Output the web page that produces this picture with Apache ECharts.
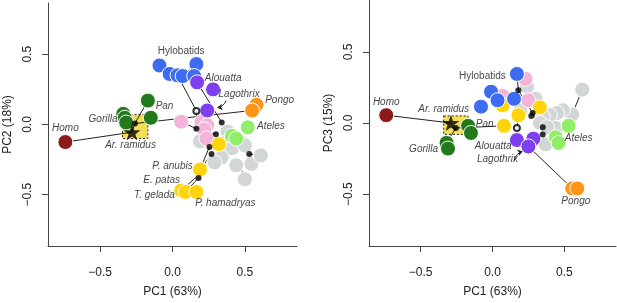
<!DOCTYPE html>
<html>
<head>
<meta charset="UTF-8">
<title>PCA</title>
<script src="https://cdn.jsdelivr.net/npm/echarts@6/dist/echarts.min.js"></script>
<style>
    body { margin: 0; padding: 0; overflow: hidden; background: #fff; }
    #chart { width: 617px; height: 303px; }
</style>
</head>
<body>
<div id="chart"></div>
<script>
    // ticks
    const tickValues = [-0.5, 0, 0.5];

    // ---- PC1 / PC2 (left) ----
    const pc2Homo = [[-0.74, -0.125]];
    const pc2Ardi = [[-0.28, -0.055]];
    const pc2Box = [[-0.345, 0.07], [-0.17, -0.1]];
    const pc2African = [[-0.34, 0.076], [-0.33, 0.048], [-0.32, 0.014], [-0.17, 0.17], [-0.15, 0.048]];
    const pc2Hylo = [[-0.09, 0.42], [-0.02, 0.36], [0.035, 0.35], [0.07, 0.345], [0.165, 0.43], [0.15, 0.345]];
    const pc2Atelid = [[0.17, 0.30], [0.28, 0.25], [0.24, 0.10]];
    const pc2Pongo = [[0.58, 0.14], [0.55, 0.10]];
    const pc2Ateles = [[0.52, -0.02], [0.41, -0.08], [0.44, -0.10]];
    const pc2Pink = [[0.06, 0.02], [0.2, 0.02], [0.24, -0.005], [0.22, -0.035], [0.235, -0.10]];
    const pc2Papio = [[0.32, -0.14], [0.19, -0.32], [0.06, -0.47], [0.09, -0.48], [0.165, -0.48]];
    const pc2Gray = [[0.19, -0.12], [0.38, -0.05], [0.37, -0.13], [0.48, -0.13], [0.41, -0.17], [0.5, -0.15],
        [0.34, -0.235], [0.29, -0.27], [0.44, -0.29], [0.545, -0.28], [0.61, -0.22], [0.5, -0.39]];
    const pc2Nodes = [[-0.26, 0.007], [0.165, -0.03], [0.34, 0.015], [0.30, -0.07], [0.255, -0.16],
        [0.27, -0.21], [0.18, -0.38], [0.53, -0.21]];
    const pc2Open = [[0.165, 0.097]];
    const pc2Edges = [
        [[-0.74, -0.125], [-0.28, -0.055]],
        [[-0.26, 0.007], [0.55, 0.10]],
        [[-0.26, 0.007], [-0.17, 0.17]],
        [[-0.26, 0.007], [-0.28, -0.055]],
        [[0.035, 0.35], [0.165, 0.097]],
        [[0.165, 0.097], [0.165, -0.03]],
        [[0.07, 0.345], [0.165, 0.43]],
        [[0.17, 0.30], [0.34, 0.015]],
        [[0.06, 0.02], [0.165, -0.03]],
        [[0.165, -0.03], [0.30, -0.07]],
        [[0.255, -0.16], [0.19, -0.32]],
        [[0.27, -0.21], [0.2, -0.31]],
        [[0.18, -0.38], [0.09, -0.48]],
        [[0.17, -0.37], [0.07, -0.46]],
        [[0.53, -0.21], [0.61, -0.22]],
        [[0.48, -0.33], [0.5, -0.37]]
    ];
    const pc2Arrow = [[[0.37, 0.17], [0.31, 0.12]]];
    const pc2Labels = [
        [0.06, 0.525, 'Hylobatids', 'normal'],
        [0.35, 0.33, 'Alouatta', 'italic'],
        [0.46, 0.215, 'Lagothrix', 'italic'],
        [0.74, 0.17, 'Pongo', 'italic'],
        [0.68, -0.015, 'Ateles', 'italic'],
        [-0.055, 0.13, 'Pan', 'italic'],
        [-0.48, 0.035, 'Gorilla', 'italic'],
        [-0.74, -0.03, 'Homo', 'italic'],
        [-0.29, -0.15, 'Ar. ramidus', 'italic'],
        [0.0, -0.30, 'P. anubis', 'italic'],
        [-0.075, -0.40, 'E. patas', 'italic'],
        [-0.125, -0.505, 'T. gelada', 'italic'],
        [0.365, -0.56, 'P. hamadryas', 'italic']
    ];

    // ---- PC1 / PC3 (right) ----
    const pc3Homo = [[-0.74, 0.055]];
    const pc3Ardi = [[-0.29, 0.0]];
    const pc3Box = [[-0.34, 0.05], [-0.17, -0.08]];
    const pc3African = [[-0.17, -0.02], [-0.15, -0.07], [-0.32, -0.14], [-0.31, -0.18]];
    const pc3Hylo = [[0.17, 0.345], [-0.01, 0.22], [-0.08, 0.115], [0.035, 0.16], [0.15, 0.17]];
    const pc3Atelid = [[0.17, -0.12], [0.285, -0.11], [0.25, -0.165]];
    const pc3Pongo = [[0.555, -0.46], [0.59, -0.46]];
    const pc3Ateles = [[0.53, -0.02], [0.44, -0.10], [0.46, -0.14]];
    const pc3Pink = [[0.23, 0.31], [0.07, 0.19], [0.25, 0.16]];
    const pc3Papio = [[0.33, 0.11], [0.07, 0.125], [0.18, 0.055], [0.08, -0.02]];
    const pc3Gray = [[0.24, 0.255], [0.30, 0.17], [0.195, 0.085], [0.625, 0.235], [0.555, 0.06], [0.49, 0.09],
        [0.45, 0.07], [0.40, 0.055], [0.35, 0.045], [0.33, 0.0], [0.44, -0.035], [0.37, -0.15], [0.38, -0.03]];
    const pc3Nodes = [[-0.255, -0.035], [0.18, 0.23], [0.28, 0.07], [0.27, 0.05], [0.35, -0.08], [0.35, -0.03]];
    const pc3Open = [[0.17, -0.035]];
    const pc3Edges = [
        [[-0.74, 0.055], [-0.29, 0.0]],
        [[-0.255, -0.035], [0.08, -0.02]],
        [[-0.255, -0.035], [-0.32, -0.14]],
        [[0.17, 0.345], [0.18, 0.23]],
        [[0.18, 0.23], [0.28, 0.07]],
        [[0.07, 0.19], [0.18, 0.1]],
        [[0.625, 0.235], [0.555, 0.06]],
        [[0.25, -0.165], [0.555, -0.46]],
        [[0.17, -0.035], [0.18, 0.055]],
        [[0.28, 0.07], [0.35, -0.08]]
    ];
    const pc3Arrow = [[[0.15, -0.265], [0.21, -0.2]]];
    const pc3Labels = [
        [-0.07, 0.33, 'Hylobatids', 'normal'],
        [-0.74, 0.145, 'Homo', 'italic'],
        [-0.34, 0.10, 'Ar. ramidus', 'italic'],
        [-0.055, -0.01, 'Pan', 'italic'],
        [-0.48, -0.185, 'Gorilla', 'italic'],
        [0.005, -0.16, 'Alouatta', 'italic'],
        [0.035, -0.255, 'Lagothrix', 'italic'],
        [0.6, -0.11, 'Ateles', 'italic'],
        [0.58, -0.55, 'Pongo', 'italic']
    ];

    const colors = {
        homo: '#8b1a1a', african: '#237a1c', hylo: '#3d6cf0', atelid: '#7d3ff0',
        pongo: '#ff9418', ateles: '#90ee68', pink: '#f5b3d9', papio: '#ffd40a', gray: '#d2d6d5'
    };
    const starPath = 'path://M0,-10L2.35,-3.24L9.51,-3.09L3.8,1.24L5.88,8.09L0,4L-5.88,8.09L-3.8,1.24L-9.51,-3.09L-2.35,-3.24Z';
    const font = 'Liberation Sans';

    const ec = echarts.init(document.getElementById('chart'), null, {renderer: 'canvas'});

    function axisX(idx) {
        return {
            gridIndex: idx, type: 'value', min: -0.86, max: 0.86,
            name: 'PC1 (63%)', nameLocation: 'middle', nameGap: 40,
            nameTextStyle: {fontFamily: font, fontSize: 12, color: '#222'},
            axisLine: {show: true, onZero: false, lineStyle: {color: '#444', width: 1}},
            axisTick: {show: true, length: 6, customValues: tickValues, lineStyle: {color: '#444'}},
            axisLabel: {customValues: tickValues, margin: 21, fontFamily: font, fontSize: 12, color: '#222',
                formatter: v => v.toFixed(1).replace('-', '\u2212')},
            splitLine: {show: false}
        };
    }
    function axisY(idx, name) {
        return {
            gridIndex: idx, type: 'value', min: -0.865, max: 0.865,
            name: name, nameLocation: 'middle', nameGap: 34, nameRotate: 90,
            nameTextStyle: {fontFamily: font, fontSize: 12, color: '#222'},
            axisLine: {show: true, onZero: false, lineStyle: {color: '#444', width: 1}},
            axisTick: {show: true, length: 6, customValues: tickValues, lineStyle: {color: '#444'}},
            axisLabel: {customValues: tickValues, rotate: 90, margin: 14, fontFamily: font, fontSize: 12, color: '#222',
                formatter: v => v.toFixed(1).replace('-', '\u2212')},
            splitLine: {show: false}
        };
    }

    function panelSeries(i, d) {
        const base = {xAxisIndex: i, yAxisIndex: i};
        const dot = (data, color) => Object.assign({
            type: 'scatter', data: data, symbolSize: 15, silent: true,
            itemStyle: {color: color, borderColor: '#fff', borderWidth: 1, opacity: 1}
        }, base);
        return [
            Object.assign({
                type: 'scatter', data: [], silent: true,
                markArea: {silent: true, data: [[{coord: d.box[0]}, {coord: d.box[1]}]],
                    itemStyle: {color: '#f3df55', borderColor: '#222', borderWidth: 1, borderType: [2, 2]}}
            }, base),
            Object.assign({
                type: 'lines', coordinateSystem: 'cartesian2d', silent: true,
                data: d.edges.map(e => ({coords: e})),
                lineStyle: {color: '#222', width: 1, opacity: 1}
            }, base),
            Object.assign({
                type: 'lines', coordinateSystem: 'cartesian2d', silent: true,
                data: d.arrow.map(e => ({coords: e})), symbol: ['none', 'arrow'], symbolSize: 5,
                lineStyle: {color: '#222', width: 1, opacity: 1, curveness: 0.3}
            }, base),
            dot(d.gray, colors.gray),
            dot(d.ateles, colors.ateles),
            dot(d.pink, colors.pink),
            dot(d.papio, colors.papio),
            dot(d.hylo, colors.hylo),
            dot(d.atelid, colors.atelid),
            dot(d.pongo, colors.pongo),
            dot(d.african, colors.african),
            dot(d.homo, colors.homo),
            Object.assign({
                type: 'scatter', data: d.nodes, symbolSize: 6, silent: true,
                itemStyle: {color: '#000'}
            }, base),
            Object.assign({
                type: 'scatter', data: d.open, symbol: 'emptyCircle', symbolSize: 6, silent: true,
                itemStyle: {color: '#000', borderColor: '#000', borderWidth: 1}
            }, base),
            Object.assign({
                type: 'scatter', data: d.ardi, symbol: starPath, symbolSize: [17, 16], silent: true,
                itemStyle: {color: '#000'}
            }, base),
            Object.assign({
                type: 'scatter', silent: true, symbolSize: 0,
                data: d.labels.map(l => ({
                    value: [l[0], l[1]],
                    label: {show: true, position: 'inside', formatter: l[2], fontStyle: l[3],
                        fontFamily: font, fontSize: 10, color: '#111'}
                }))
            }, base)
        ];
    }

    const option = {
        animation: false,
        grid: [
            {left: 48, top: 3, width: 249, height: 250},
            {left: 369, top: 0, width: 247, height: 250}
        ],
        xAxis: [axisX(0), axisX(1)],
        yAxis: [axisY(0, 'PC2 (18%)'), axisY(1, 'PC3 (15%)')],
        series: [].concat(
            panelSeries(0, {
                box: pc2Box, edges: pc2Edges, arrow: pc2Arrow, gray: pc2Gray, ateles: pc2Ateles, pink: pc2Pink,
                papio: pc2Papio, hylo: pc2Hylo, atelid: pc2Atelid, pongo: pc2Pongo, african: pc2African,
                homo: pc2Homo, nodes: pc2Nodes, open: pc2Open, ardi: pc2Ardi, labels: pc2Labels
            }),
            panelSeries(1, {
                box: pc3Box, edges: pc3Edges, arrow: pc3Arrow, gray: pc3Gray, ateles: pc3Ateles, pink: pc3Pink,
                papio: pc3Papio, hylo: pc3Hylo, atelid: pc3Atelid, pongo: pc3Pongo, african: pc3African,
                homo: pc3Homo, nodes: pc3Nodes, open: pc3Open, ardi: pc3Ardi, labels: pc3Labels
            })
        )
    };
    ec.setOption(option);
</script>
</body>
</html>
